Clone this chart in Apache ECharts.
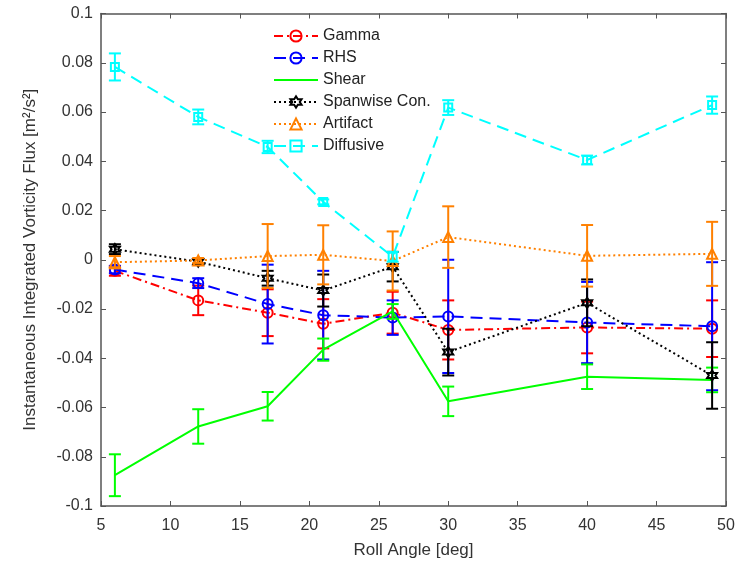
<!DOCTYPE html>
<html>
<head>
<meta charset="utf-8">
<script src="https://cdn.jsdelivr.net/npm/echarts@6/dist/echarts.min.js"></script>
<style>html,body{margin:0;padding:0;background:#fff}#c{width:740px;height:571px}</style>
</head>
<body>
<div id="c"></div>
<script>
// ---- data ----
const rollAngle = [6, 12, 17, 21, 26, 30, 40, 49];
const seriesNames = ['Gamma', 'RHS', 'Shear', 'Spanwise Con.', 'Artifact', 'Diffusive'];
const gamma      = [-0.0045, -0.0165, -0.0215, -0.026, -0.0215, -0.0285, -0.0275, -0.028];
const gammaErr   = [0.002, 0.006, 0.0095, 0.01, 0.0085, 0.012, 0.0105, 0.0115];
const rhs        = [-0.004, -0.0095, -0.018, -0.0225, -0.0235, -0.023, -0.0255, -0.027];
const rhsErr     = [0.0015, 0.002, 0.016, 0.018, 0.007, 0.023, 0.0165, 0.026];
const shear      = [-0.0875, -0.0677, -0.0595, -0.0365, -0.021, -0.0575, -0.0475, -0.0488];
const shearErr   = [0.0085, 0.007, 0.0058, 0.0045, 0.003, 0.006, 0.005, 0.005];
const spanwise   = [0.0043, -0.0008, -0.0075, -0.0125, -0.0028, -0.0375, -0.0175, -0.047];
const spanwiseErr= [0.002, 0.001, 0.003, 0.0065, 0.006, 0.0095, 0.0095, 0.0135];
const artifact   = [-0.001, -0.0003, 0.0015, 0.002, -0.0005, 0.0092, 0.0016, 0.0024];
const artifactErr= [0.0025, 0.001, 0.013, 0.012, 0.012, 0.0125, 0.0125, 0.013];
const diffusive  = [0.0783, 0.058, 0.0458, 0.0235, 0.0012, 0.0618, 0.0405, 0.0628];
const diffusiveErr=[0.0055, 0.003, 0.0025, 0.001, 0.002, 0.003, 0.0018, 0.0035];
const xTicks = [5, 10, 15, 20, 25, 30, 35, 40, 45, 50];
const yTicks = [-0.1, -0.08, -0.06, -0.04, -0.02, 0, 0.02, 0.04, 0.06, 0.08, 0.1];

// ---- styles ----
function hexagramPath() {
  let d = '';
  for (let k = 0; k < 12; k++) {
    const a = (-90 + 30 * k) * Math.PI / 180;
    const r = k % 2 === 0 ? 10 : 5.8;
    const x = (10 + r * Math.cos(a)).toFixed(2), y = (10 + r * Math.sin(a)).toFixed(2);
    d += (k === 0 ? 'M' : 'L') + x + ',' + y;
  }
  return 'path://' + d + 'Z';
}
const defs = [
  {vals: gamma, err: gammaErr, color: '#ff0000', dash: [9, 4, 2, 4], symbol: 'circle', size: 10},
  {vals: rhs, err: rhsErr, color: '#0000ff', dash: [12, 7], symbol: 'circle', size: 10},
  {vals: shear, err: shearErr, color: '#00ff00', dash: 'solid', symbol: 'none', size: 0},
  {vals: spanwise, err: spanwiseErr, color: '#000000', dash: [2, 3], symbol: hexagramPath(), size: 10},
  {vals: artifact, err: artifactErr, color: '#ff8000', dash: [2, 3], symbol: 'triangle', size: 10},
  {vals: diffusive, err: diffusiveErr, color: '#00ffff', dash: [12, 7], symbol: 'rect', size: 8}
];

const series = [];
defs.forEach((d, i) => {
  series.push({
    type: 'custom',
    xAxisIndex: 0, yAxisIndex: 0,
    z: 2 + i * 2,
    silent: true,
    data: rollAngle.map((x, j) => [x, d.vals[j] - d.err[j], d.vals[j] + d.err[j]]),
    renderItem: function (params, api) {
      const x = api.value(0);
      const top = api.coord([x, api.value(2)]);
      const bot = api.coord([x, api.value(1)]);
      const hw = 6;
      const st = {stroke: d.color, lineWidth: 2};
      return {
        type: 'group',
        children: [
          {type: 'line', shape: {x1: top[0], y1: top[1], x2: bot[0], y2: bot[1]}, style: st},
          {type: 'line', shape: {x1: top[0] - hw, y1: top[1], x2: top[0] + hw, y2: top[1]}, style: st},
          {type: 'line', shape: {x1: bot[0] - hw, y1: bot[1], x2: bot[0] + hw, y2: bot[1]}, style: st}
        ]
      };
    },
    encode: {x: 0, y: [1, 2]}
  });
  const noSym = d.symbol === 'none';
  series.push({
    name: seriesNames[i],
    type: 'line',
    xAxisIndex: 0, yAxisIndex: 0,
    z: 3 + i * 2,
    data: rollAngle.map((x, j) => [x, d.vals[j]]),
    symbol: noSym ? 'circle' : d.symbol,
    symbolSize: d.size,
    showSymbol: !noSym,
    lineStyle: {color: d.color, width: 2, type: d.dash},
    itemStyle: {color: 'rgba(255,255,255,0)', borderColor: noSym ? 'rgba(0,0,0,0)' : d.color, borderWidth: noSym ? 0 : 2},
    emphasis: {disabled: true},
    animation: false
  });
});

const labelStyle = {fontFamily: 'Liberation Sans, Arial, sans-serif', fontSize: 16, color: '#333333'};
const axisLine = {show: true, onZero: false, lineStyle: {color: '#555555', width: 1.5}};
const tick = {show: true, inside: true, length: 5, lineStyle: {color: '#555555'}};
const chart = echarts.init(document.getElementById('c'), null, {renderer: 'canvas'});
chart.setOption({
  animation: false,
  backgroundColor: '#ffffff',
  grid: {left: 101, right: 14, top: 13.5, bottom: 65, containLabel: false},
  legend: {
    data: seriesNames,
    orient: 'vertical',
    left: 268, top: 23,
    itemWidth: 44, itemHeight: 14, itemGap: 6,
    textStyle: {fontFamily: 'Liberation Sans, Arial, sans-serif', fontSize: 16, color: '#222222'},
    selectedMode: false
  },
  xAxis: [
    {type: 'value', min: xTicks[0], max: xTicks[xTicks.length - 1], interval: 5, position: 'bottom',
     name: 'Roll Angle [deg]', nameLocation: 'middle', nameGap: 36,
     nameTextStyle: Object.assign({}, labelStyle, {fontSize: 17}),
     axisLine: axisLine, axisTick: tick,
     axisLabel: Object.assign({margin: 12}, labelStyle), splitLine: {show: false}},
    {type: 'value', min: xTicks[0], max: xTicks[xTicks.length - 1], interval: 5, position: 'top',
     axisLine: axisLine, axisTick: tick,
     axisLabel: {show: false}, splitLine: {show: false}}
  ],
  yAxis: [
    {type: 'value', min: yTicks[0], max: yTicks[yTicks.length - 1], interval: 0.02, position: 'left',
     name: 'Instantaneous Integrated Vorticity Flux [m²/s²]', nameLocation: 'middle', nameGap: 62,
     nameTextStyle: Object.assign({}, labelStyle, {fontSize: 17}),
     axisLine: axisLine, axisTick: tick,
     axisLabel: Object.assign({margin: 8, formatter: v => String(+v.toFixed(2))}, labelStyle), splitLine: {show: false}},
    {type: 'value', min: yTicks[0], max: yTicks[yTicks.length - 1], interval: 0.02, position: 'right',
     axisLine: axisLine, axisTick: tick,
     axisLabel: {show: false}, splitLine: {show: false}}
  ],
  series: series
});
</script>
</body>
</html>
